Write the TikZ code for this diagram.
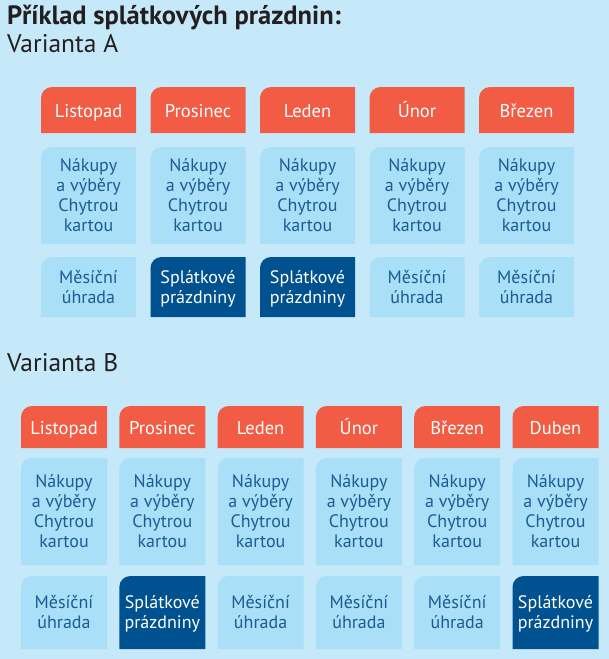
\documentclass[tikz,border=0pt]{standalone}
\usepackage{fontspec}
\setmainfont{PT Sans}
\usetikzlibrary{calc}
\definecolor{pozadi}{HTML}{C6E9F9}
\definecolor{cervena}{HTML}{F25C44}
\definecolor{svetla}{HTML}{A9DFF7}
\definecolor{tmava}{HTML}{00518F}
\definecolor{modrytext}{HTML}{1D5B95}
\definecolor{nadpis}{HTML}{231F20}
% tile with rounded top-left corner: name, x0, y0, x1, y1, style, text
\newcommand{\dlazdice}[7]{\fill[#6] (#2,#5) -- (#2,#3+11) arc[start angle=180, end angle=90, radius=11pt] -- (#4,#3) -- (#4,#5) -- cycle;
  \node[#6, fill=none, align=center, yshift=-2pt] (#1) at ({(#2+#4)/2},{(#3+#5)/2}) {#7};}

\begin{document}
\begin{tikzpicture}[x=1pt, y=-1pt, font=\fontsize{18}{20}\selectfont,
  hlava/.style={fill=cervena, text=white, font=\fontsize{18.5}{20}\selectfont, text height=14pt, text depth=4pt},
  nakup/.style={fill=svetla, text=modrytext},
  mesic/.style={fill=svetla, text=modrytext},
  pauza/.style={fill=tmava, text=white}]
  \fill[pozadi] (0,0) rectangle (609,659);
  % titles
  \node[anchor=base west, inner sep=0, text=nadpis, font=\fontsize{26.5}{28}\selectfont\bfseries] (titul) at (7,24) {Příklad splátkových prázdnin:};
  \node[anchor=base west, inner sep=0, text=nadpis, font=\fontsize{25.5}{28}\selectfont] (varA) at (7,52) {Varianta A};
  \node[anchor=base west, inner sep=0, text=nadpis, font=\fontsize{25.5}{28}\selectfont] (varB) at (7,371) {Varianta B};
  % Varianta A: x0 = 41 + 109.5*i, width 95
  \foreach \i/\mes/\typ/\txt in {0/Listopad/mesic/{\strut Měsíční\\úhrada\strut}, 1/Prosinec/pauza/{\strut Splátkové\\prázdniny\strut},
      2/Leden/pauza/{\strut Splátkové\\prázdniny\strut}, 3/Únor/mesic/{\strut Měsíční\\úhrada\strut}, 4/Březen/mesic/{\strut Měsíční\\úhrada\strut}}{
    \pgfmathsetmacro\xa{41+109.5*\i}
    \dlazdice{hA\i}{\xa}{87}{\xa+95}{133}{hlava}{\mes}
    \dlazdice{nA\i}{\xa}{147}{\xa+95}{244}{nakup}{\strut Nákupy\\a výběry\\Chytrou\\kartou\strut}
    \dlazdice{uA\i}{\xa}{257}{\xa+95}{317}{\typ}{\txt}
  }
  % Varianta B: x0 = 21 + 98.3*i, width 86
  \foreach \i/\mes/\typ/\txt in {0/Listopad/mesic/{\strut Měsíční\\úhrada\strut}, 1/Prosinec/pauza/{\strut Splátkové\\prázdniny\strut},
      2/Leden/mesic/{\strut Měsíční\\úhrada\strut}, 3/Únor/mesic/{\strut Měsíční\\úhrada\strut}, 4/Březen/mesic/{\strut Měsíční\\úhrada\strut},
      5/Duben/pauza/{\strut Splátkové\\prázdniny\strut}}{
    \pgfmathsetmacro\xb{21+98.3*\i}
    \dlazdice{hB\i}{\xb}{406}{\xb+86}{448}{hlava}{\mes}
    \dlazdice{nB\i}{\xb}{458}{\xb+86}{565}{nakup}{\strut Nákupy\\a výběry\\Chytrou\\kartou\strut}
    \dlazdice{uB\i}{\xb}{576}{\xb+86}{649}{\typ}{\txt}
  }
\end{tikzpicture}
\end{document}
